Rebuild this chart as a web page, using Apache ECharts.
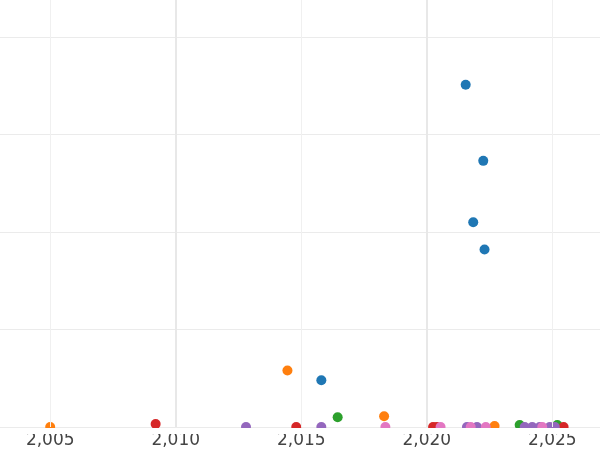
<!DOCTYPE html>
<html><head><meta charset="utf-8">
<script src="https://cdn.jsdelivr.net/npm/echarts@6/dist/echarts.min.js"></script>
<style>html,body{margin:0;background:#fff}#c{width:600px;height:450px}</style>
</head><body><div id="c"></div>
<script>
const blue = [[2021.55, 351], [2022.25, 273], [2021.85, 210], [2022.3, 182], [2015.8, 48]];
const orange = [[2005.0, 0], [2014.45, 58], [2018.3, 11], [2022.7, 1]];
const green = [[2016.45, 10], [2023.7, 2], [2025.2, 2]];
const red = [[2009.2, 3], [2014.8, 0], [2020.25, 0], [2020.4, 0], [2025.45, 0]];
const purple = [[2012.8, 0], [2015.8, 0], [2021.6, 0], [2022.0, 0], [2023.9, 0], [2024.2, 0], [2024.5, 0], [2024.9, 0], [2025.1, 0]];
const pink = [[2018.35, 0], [2020.55, 0], [2021.75, 0], [2022.35, 0], [2024.6, 0]];
const colors = ['#1f77b4', '#ff7f0e', '#2ca02c', '#d62728', '#9467bd', '#e377c2'];

const chart = echarts.init(document.getElementById('c'));
const mk = (d, i) => ({ type: 'scatter', data: d, symbolSize: 10, itemStyle: { color: colors[i], opacity: 1 }, clip: true });
chart.setOption({
	animation: false,
	grid: { left: 0, right: 0, top: 0, bottom: 23, containLabel: false },
	// white strip hides the lower half of markers sitting on the baseline
	graphic: [{ type: 'rect', shape: { x: 0, y: 428, width: 600, height: 6 }, style: { fill: '#fff' }, z: 100 }],
	xAxis: {
		type: 'value', min: 2003, max: 2026.9, interval: 5,
		axisLine: { show: false }, axisTick: { show: false },
		axisLabel: { color: '#444', fontSize: 17, fontFamily: 'DejaVu Sans', margin: 5,
			customValues: [2005, 2010, 2015, 2020, 2025] },
		splitLine: { show: false }
	},
	yAxis: {
		type: 'value', min: 0, max: 438, interval: 100,
		axisLine: { show: false }, axisTick: { show: false }, axisLabel: { show: false },
		splitLine: { showMaxLine: false, lineStyle: { color: '#ebebeb', width: 1 } }
	},
	series: [
		{ type: 'line', data: [], markLine: { silent: true, symbol: 'none', label: { show: false },
			data: [
				{ xAxis: 2005, lineStyle: { color: '#f0f0f0', width: 1, type: 'solid' } },
				{ xAxis: 2010, lineStyle: { color: '#e8e8e8', width: 2, type: 'solid' } },
				{ xAxis: 2015, lineStyle: { color: '#f0f0f0', width: 1, type: 'solid' } },
				{ xAxis: 2020, lineStyle: { color: '#e8e8e8', width: 2, type: 'solid' } },
				{ xAxis: 2025, lineStyle: { color: '#f0f0f0', width: 1, type: 'solid' } }
			] } },
		mk(blue, 0), mk(orange, 1), mk(green, 2), mk(red, 3), mk(purple, 4), mk(pink, 5)
	]
});
</script></body></html>
